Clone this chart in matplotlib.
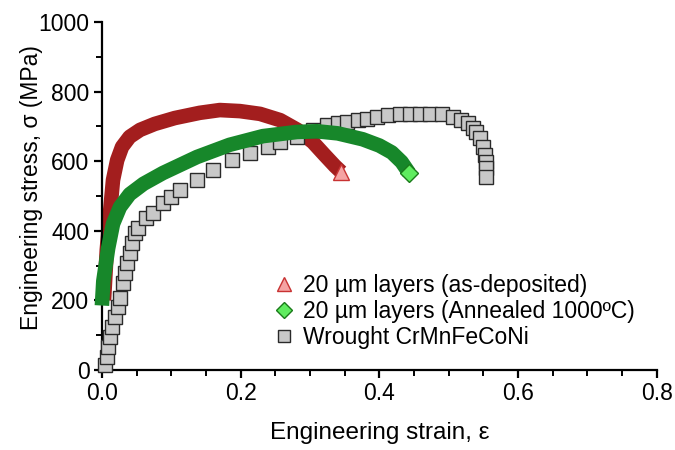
import matplotlib
matplotlib.use("Agg")
import matplotlib.pyplot as plt
from matplotlib.ticker import MultipleLocator

plt.rcParams['font.family'] = ['Liberation Sans', 'DejaVu Sans']

# As-deposited 20 um layers (strain, stress MPa)
asdep_strain = [0.003, 0.007, 0.012, 0.016, 0.022, 0.029, 0.040, 0.055, 0.076, 0.105,
                0.141, 0.170, 0.199, 0.228, 0.257, 0.282, 0.304, 0.321, 0.336, 0.345]
asdep_stress = [200, 345, 460, 546, 603, 641, 670, 690, 707, 724,
                739, 747, 744, 736, 718, 690, 655, 618, 586, 569]

# Annealed 1000C 20 um layers
ann_strain = [0.000, 0.002, 0.009, 0.016, 0.026, 0.040, 0.060, 0.088, 0.137, 0.184,
              0.232, 0.281, 0.310, 0.340, 0.376, 0.400, 0.418, 0.432, 0.443]
ann_stress = [185, 255, 350, 420, 468, 505, 535, 566, 612, 647,
              672, 684, 686, 680, 663, 645, 625, 598, 566]

# Wrought CrMnFeCoNi
wr_strain = [0.004, 0.007, 0.009, 0.012, 0.015, 0.019, 0.023, 0.026, 0.030, 0.033,
             0.036, 0.040, 0.043, 0.048, 0.052, 0.064, 0.074, 0.088, 0.100, 0.112,
             0.137, 0.160, 0.187, 0.213, 0.239, 0.257, 0.281, 0.304, 0.324, 0.340,
             0.353, 0.369, 0.382, 0.396, 0.412, 0.430, 0.444, 0.458, 0.473, 0.490,
             0.506, 0.518, 0.528, 0.535, 0.540, 0.545, 0.549, 0.553, 0.554, 0.554, 0.554]
wr_stress = [14, 38, 66, 95, 124, 153, 182, 207, 250, 279,
             307, 336, 365, 393, 408, 437, 451, 480, 498, 517,
             546, 575, 603, 623, 642, 656, 670, 690, 704, 710,
             714, 718, 720, 728, 733, 736, 736, 736, 736, 736,
             728, 718, 710, 695, 685, 667, 642, 618, 599, 580, 555]

labels = ["20 \u00b5m layers (as-deposited)",
          "20 \u00b5m layers (Annealed 1000\u00baC)",
          "Wrought CrMnFeCoNi"]

x_ticks = [0.0, 0.2, 0.4, 0.6, 0.8]
y_ticks = [0, 200, 400, 600, 800, 1000]

fig = plt.figure(figsize=(6.75, 4.5), dpi=100)
ax = fig.add_axes([0.151, 0.178, 0.822, 0.773])

red_dark = '#a31e1e'
green_dark = '#17872a'

# as-deposited band
ax.plot(asdep_strain, asdep_stress, color=red_dark, lw=10.5,
        solid_capstyle='butt', solid_joinstyle='round', zorder=2, clip_on=False)
ax.plot(asdep_strain[-1], asdep_stress[-1], marker='^', ms=11, mfc='#f5a3a3',
        mec='#c83232', mew=1.0, ls='none', zorder=2.5, clip_on=False)

# wrought squares
ax.plot(wr_strain, wr_stress, marker='s', ms=10, mfc='#c8c8c8', mec='#2a2a2a',
        mew=1.0, ls='none', zorder=3, clip_on=False)

# annealed band
ax.plot(ann_strain, ann_stress, color=green_dark, lw=10.5,
        solid_capstyle='butt', solid_joinstyle='round', zorder=4, clip_on=False)
ax.plot(ann_strain[-1], ann_stress[-1], marker='D', ms=9, mfc='#5fec5f',
        mec='#1a7a1a', mew=1.0, ls='none', zorder=4.5, clip_on=False)

# legend handles
h1 = ax.plot([], [], marker='^', ms=10, mfc='#f5a3a3', mec='#c83232', mew=1.0, ls='none')[0]
h2 = ax.plot([], [], marker='D', ms=8, mfc='#5fec5f', mec='#1a7a1a', mew=1.0, ls='none')[0]
h3 = ax.plot([], [], marker='s', ms=9, mfc='#c8c8c8', mec='#2a2a2a', mew=1.0, ls='none')[0]
ax.legend([h1, h2, h3], labels, loc='upper left', bbox_to_anchor=(0.305, 0.275),
          frameon=False, fontsize=16.5, handletextpad=0.3, labelspacing=0.12,
          handlelength=1.1, borderaxespad=0, borderpad=0)

ax.set_xlim(0, 0.8)
ax.set_ylim(0, 1000)
ax.set_xticks(x_ticks)
ax.set_xticklabels([f"{v:.1f}" for v in x_ticks])
ax.set_yticks(y_ticks)
ax.xaxis.set_minor_locator(MultipleLocator(0.05))
ax.yaxis.set_minor_locator(MultipleLocator(100))

for s in ['top', 'right']:
    ax.spines[s].set_visible(False)
for s in ['left', 'bottom']:
    ax.spines[s].set_linewidth(1.6)
ax.tick_params(which='major', length=6, width=1.6, labelsize=16.5, direction='out', pad=3)
ax.tick_params(which='minor', length=4, width=1.4, direction='out')

ax.set_xlabel("Engineering strain, \u03b5", fontsize=17.5, labelpad=12)
ax.set_ylabel("Engineering stress, \u03c3 (MPa)", fontsize=16.5)
ax.yaxis.set_label_coords(-0.107, 0.524)

fig.savefig("out.png", dpi=100)
